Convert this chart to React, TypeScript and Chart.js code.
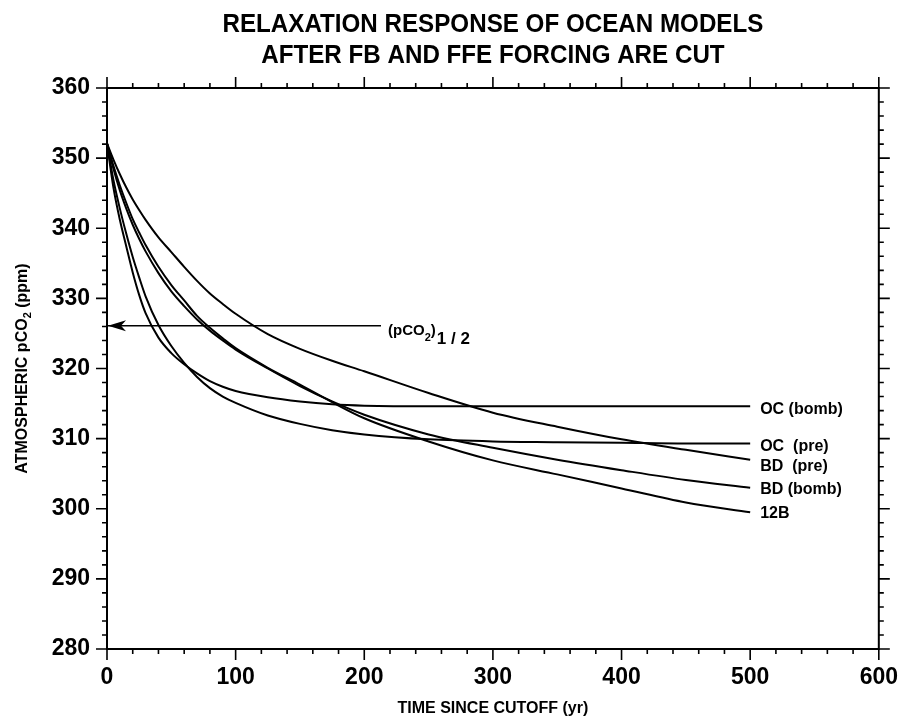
import React, { useEffect, useRef } from 'react';
import { Chart, registerables } from 'chart.js';

Chart.register(...registerables);

// ---------- text ----------
const titleLines = ['RELAXATION RESPONSE OF OCEAN MODELS', 'AFTER FB AND FFE FORCING ARE CUT'];
const xAxisTitle = 'TIME SINCE CUTOFF (yr)';
const yAxisTitleMain = 'ATMOSPHERIC pCO';
const yAxisTitleSub = '2';
const yAxisTitleUnit = ' (ppm)';

// ---------- axes ----------
const xMin = 0;
const xMax = 600;
const xMajorStep = 100;
const xMinorStep = 20;
const yMin = 280;
const yMax = 360;
const yMajorStep = 10;
const yMinorStep = 2;

// ---------- data ----------
const years = [0, 5, 10, 15, 20, 25, 30, 40, 50, 60, 70, 80, 90, 100, 125, 150, 175, 200, 250, 300, 350, 400, 450, 500];
const ocBomb = [352.1, 345.8, 341.2, 337.4, 333.7, 330.5, 327.9, 324.4, 322.2, 320.6, 319.3, 318.2, 317.4, 316.8, 315.9, 315.3, 314.9, 314.7, 314.6, 314.6, 314.6, 314.6, 314.6, 314.6];
const ocPre = [352.1, 346.9, 342.8, 339.2, 335.9, 333.0, 330.3, 326.2, 323.2, 320.8, 318.8, 317.2, 316.0, 315.1, 313.3, 312.1, 311.2, 310.6, 309.9, 309.6, 309.5, 309.4, 309.3, 309.3];
const bdPre = [352.1, 349.8, 347.7, 345.8, 344.1, 342.6, 341.2, 338.7, 336.6, 334.5, 332.5, 330.7, 329.2, 327.8, 324.9, 322.8, 321.1, 319.6, 316.5, 313.7, 311.7, 309.9, 308.4, 307.0];
const bdBomb = [352.1, 348.5, 345.4, 342.8, 340.5, 338.5, 336.7, 333.6, 331.0, 328.9, 327.0, 325.4, 324.0, 322.7, 320.0, 317.5, 315.3, 313.4, 310.6, 308.7, 307.0, 305.5, 304.1, 303.0];
const model12B = [352.1, 348.9, 346.1, 343.6, 341.3, 339.4, 337.6, 334.5, 331.9, 329.7, 327.5, 325.8, 324.3, 322.9, 320.1, 317.7, 315.2, 312.9, 309.6, 306.9, 304.9, 302.9, 300.9, 299.5];

const seriesNames = ['OC (bomb)', 'OC  (pre)', 'BD  (pre)', 'BD (bomb)', '12B'];
const seriesValues = [ocBomb, ocPre, bdPre, bdBomb, model12B];
const seriesLabelLevels = [314.2, 308.9, 306.0, 302.7, 299.3];

// half-value reference arrow
const halfLevel = 326.1;
const halfLineStart = 0;
const halfLineEnd = 213;
const halfLabelMain = '(pCO';
const halfLabelSub = '2';
const halfLabelClose = ')';
const halfLabelIndex = '1 / 2';

const FONT = "'Liberation Sans', Arial, Helvetica, sans-serif";

const decorPlugin = {
  id: 'decor',
  afterDraw(chart: any) {
    const ctx = chart.ctx as CanvasRenderingContext2D;
    const { left, right, top, bottom } = chart.chartArea;
    const xs = chart.scales.x;
    const ys = chart.scales.y;
    ctx.save();
    ctx.fillStyle = '#000';
    ctx.strokeStyle = '#000';

    // frame
    ctx.lineWidth = 2;
    ctx.strokeRect(left, top, right - left, bottom - top);

    // ticks on all four sides
    ctx.lineWidth = 1.6;
    ctx.beginPath();
    for (let v = xMin; v <= xMax + 1e-6; v += xMinorStep) {
      const x = xs.getPixelForValue(v);
      const len = v % xMajorStep === 0 ? 11 : 5;
      ctx.moveTo(x, bottom);
      ctx.lineTo(x, bottom + len);
      ctx.moveTo(x, top);
      ctx.lineTo(x, top - len);
    }
    for (let v = yMin; v <= yMax + 1e-6; v += yMinorStep) {
      const y = ys.getPixelForValue(v);
      const len = (v - yMin) % yMajorStep === 0 ? 11 : 5;
      ctx.moveTo(left, y);
      ctx.lineTo(left - len, y);
      ctx.moveTo(right, y);
      ctx.lineTo(right + len, y);
    }
    ctx.stroke();

    // arrow head at the start of the half-value line
    const ay = ys.getPixelForValue(halfLevel);
    const ax = xs.getPixelForValue(halfLineStart) + 1;
    ctx.beginPath();
    ctx.moveTo(ax, ay);
    ctx.lineTo(ax + 18, ay - 5.5);
    ctx.lineTo(ax + 13, ay);
    ctx.lineTo(ax + 18, ay + 5.5);
    ctx.closePath();
    ctx.fill();

    // half-value label
    let hx = xs.getPixelForValue(halfLineEnd) + 7;
    ctx.textAlign = 'left';
    ctx.textBaseline = 'alphabetic';
    ctx.font = `bold 15px ${FONT}`;
    ctx.fillText(halfLabelMain, hx, ay + 9);
    hx += ctx.measureText(halfLabelMain).width;
    ctx.font = `bold 11px ${FONT}`;
    ctx.fillText(halfLabelSub, hx, ay + 15);
    hx += ctx.measureText(halfLabelSub).width;
    ctx.font = `bold 15px ${FONT}`;
    ctx.fillText(halfLabelClose, hx, ay + 9);
    hx += ctx.measureText(halfLabelClose).width + 1;
    ctx.font = `bold 17px ${FONT}`;
    ctx.fillText(halfLabelIndex, hx, ay + 18);

    // series labels at the right end of each curve
    ctx.font = `bold 16px ${FONT}`;
    ctx.textBaseline = 'middle';
    const lx = xs.getPixelForValue(years[years.length - 1]) + 10;
    seriesNames.forEach((name, i) => {
      ctx.fillText(name, lx, ys.getPixelForValue(seriesLabelLevels[i]));
    });

    // chart title (two lines, condensed)
    const cx = (left + right) / 2;
    ctx.font = `bold 26px ${FONT}`;
    ctx.textAlign = 'center';
    ctx.textBaseline = 'alphabetic';
    titleLines.forEach((line, i) => {
      ctx.save();
      ctx.translate(cx, 24 + i * 31);
      ctx.scale(0.93, 1);
      ctx.fillText(line, 0, 0);
      ctx.restore();
    });

    // x axis title
    ctx.font = `bold 16px ${FONT}`;
    ctx.fillText(xAxisTitle, cx, bottom + 64);

    // y axis title with subscript
    ctx.save();
    ctx.translate(13, (top + bottom) / 2);
    ctx.rotate(-Math.PI / 2);
    ctx.textAlign = 'left';
    ctx.font = `bold 16px ${FONT}`;
    const w1 = ctx.measureText(yAxisTitleMain).width;
    const w3 = ctx.measureText(yAxisTitleUnit).width;
    ctx.font = `bold 11px ${FONT}`;
    const w2 = ctx.measureText(yAxisTitleSub).width;
    let tx = -(w1 + w2 + w3) / 2;
    ctx.font = `bold 16px ${FONT}`;
    ctx.fillText(yAxisTitleMain, tx, 6);
    tx += w1;
    ctx.font = `bold 11px ${FONT}`;
    ctx.fillText(yAxisTitleSub, tx, 10);
    tx += w2;
    ctx.font = `bold 16px ${FONT}`;
    ctx.fillText(yAxisTitleUnit, tx, 6);
    ctx.restore();

    ctx.restore();
  },
};

export default function App() {
  const canvasRef = useRef<HTMLCanvasElement | null>(null);

  useEffect(() => {
    if (!canvasRef.current) return;
    Chart.defaults.font.family = FONT;
    const datasets: any[] = seriesValues.map((vals, i) => ({
      label: seriesNames[i],
      data: years.map((x, j) => ({ x, y: vals[j] })),
      borderColor: '#000',
      borderWidth: 2,
      pointRadius: 0,
      fill: false,
      cubicInterpolationMode: 'monotone',
    }));
    datasets.push({
      label: 'half',
      data: [
        { x: halfLineStart, y: halfLevel },
        { x: halfLineEnd, y: halfLevel },
      ],
      borderColor: '#000',
      borderWidth: 1.6,
      pointRadius: 0,
      fill: false,
    });

    const chart = new Chart(canvasRef.current, {
      type: 'line',
      data: { datasets },
      options: {
        responsive: false,
        animation: false,
        layout: { padding: { top: 80, right: 19, left: 0, bottom: 0 } },
        plugins: {
          legend: { display: false },
          tooltip: { enabled: false },
          title: { display: false },
        },
        scales: {
          x: {
            type: 'linear',
            min: xMin,
            max: xMax,
            afterFit: (scale: any) => {
              scale.height = 69;
            },
            ticks: {
              stepSize: xMajorStep,
              color: '#000',
              padding: 4,
              maxRotation: 0,
              font: { size: 23, weight: 'bold', family: FONT },
            },
            grid: {
              display: true,
              drawOnChartArea: false,
              drawTicks: true,
              tickLength: 11,
              color: 'rgba(0,0,0,0)',
            },
            border: { display: false },
          },
          y: {
            type: 'linear',
            min: yMin,
            max: yMax,
            afterFit: (scale: any) => {
              scale.width = 99;
            },
            ticks: {
              stepSize: yMajorStep,
              color: '#000',
              padding: 6,
              font: { size: 23, weight: 'bold', family: FONT },
            },
            grid: {
              display: true,
              drawOnChartArea: false,
              drawTicks: true,
              tickLength: 11,
              color: 'rgba(0,0,0,0)',
            },
            border: { display: false },
          },
        },
      },
      plugins: [decorPlugin],
    } as any);

    return () => chart.destroy();
  }, []);

  return <canvas ref={canvasRef} width={894} height={710} style={{ display: 'block' }} />;
}
